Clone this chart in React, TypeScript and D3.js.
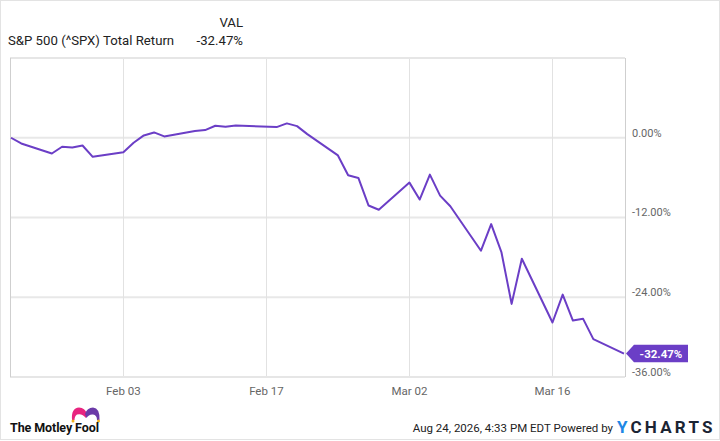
import React from 'react';
import * as d3 from 'd3';

const dates: string[] = [
    '2020-01-23', '2020-01-24', '2020-01-27', '2020-01-28', '2020-01-29', '2020-01-30', '2020-01-31',
    '2020-02-03', '2020-02-04', '2020-02-05', '2020-02-06', '2020-02-07',
    '2020-02-10', '2020-02-11', '2020-02-12', '2020-02-13', '2020-02-14',
    '2020-02-18', '2020-02-19', '2020-02-20', '2020-02-21',
    '2020-02-24', '2020-02-25', '2020-02-26', '2020-02-27', '2020-02-28',
    '2020-03-02', '2020-03-03', '2020-03-04', '2020-03-05', '2020-03-06',
    '2020-03-09', '2020-03-10', '2020-03-11', '2020-03-12', '2020-03-13',
    '2020-03-16', '2020-03-17', '2020-03-18', '2020-03-19', '2020-03-20',
    '2020-03-23',
];

const totalReturn: number[] = [
    0, -0.86, -2.37, -1.36, -1.47, -1.16, -2.87,
    -2.17, -0.76, 0.35, 0.8, 0.2,
    1.0, 1.15, 1.81, 1.66, 1.86,
    1.6, 2.16, 1.75, 0.55,
    -2.66, -5.65, -6.05, -10.2, -10.83,
    -6.75, -9.3, -5.55, -8.7, -10.3,
    -17.0, -13.0, -17.2, -25.0, -18.2,
    -27.8, -23.6, -27.5, -27.25, -30.3,
    -32.47,
];

const yTicks: number[] = [0, -12, -24, -36];
const xTicks: string[] = ['2020-02-03', '2020-02-17', '2020-03-02', '2020-03-16'];

const seriesName = 'S&P 500 (^SPX) Total Return';
const stamp = 'Aug 24, 2026, 4:33 PM EDT Powered by';

const W = 720;
const H = 441;
const plot = { left: 10, right: 625, top: 58, bottom: 377 };
const purple = '#6b3ec6';
const font = 'Roboto, sans-serif';

export default function App() {
    const parse = d3.timeParse('%Y-%m-%d');
    const data = dates.map((d, i) => ({ date: parse(d) as Date, value: totalReturn[i] }));

    const x = d3.scaleTime()
        .domain(d3.extent(data, d => d.date) as [Date, Date])
        .range([plot.left + 1, plot.right - 1]);

    const y = d3.scaleLinear()
        .domain([-36, 12])
        .range([plot.bottom, plot.top]);

    const line = d3.line<{ date: Date; value: number }>()
        .x(d => x(d.date))
        .y(d => y(d.value));

    const fmtPct = (v: number) => `${v.toFixed(2)}%`;
    const fmtDay = d3.timeFormat('%b %d');
    const last = data[data.length - 1];
    const ly = y(last.value);
    const lx = plot.right + 1;

    return (
        <svg width={W} height={H} style={{ position: 'absolute', left: 0, top: 0 }} fontFamily={font}>
            <rect x={0.5} y={0.5} width={W - 1} height={H - 2} fill="#fff" stroke="#e3e3e3" />

            {/* header */}
            <text x={243} y={27} textAnchor="end" fontSize={13.2} fill="#222">VAL</text>
            <text x={8} y={45} fontSize={13.2} fill="#222">{seriesName}</text>
            <text x={243} y={45} textAnchor="end" fontSize={13.2} fill="#222">{fmtPct(last.value)}</text>

            {/* grid */}
            {yTicks.map(t => (
                <line key={t} x1={plot.left} x2={plot.right} y1={y(t)} y2={y(t)} stroke="#e8e8e8" strokeWidth={2} />
            ))}
            {xTicks.map(t => {
                const xx = Math.round(x(parse(t) as Date)) + 0.5;
                return <line key={t} x1={xx} x2={xx} y1={plot.top} y2={plot.bottom} stroke="#e2e2e2" />;
            })}
            <line x1={plot.left} x2={plot.right} y1={plot.top} y2={plot.top} stroke="#e6e6e6" strokeWidth={2} />
            <line x1={plot.left} x2={plot.right} y1={plot.bottom} y2={plot.bottom} stroke="#e6e6e6" strokeWidth={2} />
            <line x1={plot.left + 0.5} x2={plot.left + 0.5} y1={plot.top} y2={plot.bottom} stroke="#cfcfcf" />
            <line x1={plot.right + 0.5} x2={plot.right + 0.5} y1={plot.top} y2={plot.bottom} stroke="#cfcfcf" />

            {/* axis labels */}
            {yTicks.map(t => (
                <text key={t} x={632} y={y(t) - 1.2} fontSize={11} fill="#666">{fmtPct(t)}</text>
            ))}
            {xTicks.map(t => (
                <text key={t} x={x(parse(t) as Date)} y={395} textAnchor="middle" fontSize={11.5} fill="#666">
                    {fmtDay(parse(t) as Date)}
                </text>
            ))}

            {/* series */}
            <path d={line(data) as string} fill="none" stroke={purple} strokeWidth={2} strokeLinejoin="round" />

            {/* last value flag */}
            <path
                d={`M${lx},${ly} L${lx + 8},${ly - 8.7} L${lx + 62},${ly - 8.7} L${lx + 62},${ly + 8.7} L${lx + 8},${ly + 8.7} Z`}
                fill={purple}
            />
            <text x={lx + 35} y={ly + 4} textAnchor="middle" fontSize={11.5} fontWeight="bold" fill="#fff">
                {fmtPct(last.value)}
            </text>

            {/* footer: Motley Fool */}
            <path d="M72,420 Q71,408 79,407.5 Q85,407.5 87,414 L86,418 Q82,413 77,414.5 Q74.5,416 74.5,420 Z" fill="#e8247f" />
            <path d="M85,414 Q87,407.5 93,407.5 Q100,408 99.5,420 L97,420 Q97,415 93,414.5 Q89,414 86.5,418 Z" fill="#6b3aa8" />
            <circle cx={73} cy={421} r={1.5} fill="#f2b01e" />
            <circle cx={98.5} cy={421} r={1.5} fill="#f2b01e" />
            <text x={10} y={432} fontSize={12.5} fontWeight="bold" fill="#111" letterSpacing={-0.1}>The Motley Fool</text>

            {/* footer: stamp + YCharts */}
            <text x={613} y={432} textAnchor="end" fontSize={11.5} fill="#222">{stamp}</text>
            <text x={617} y={433} fontSize={17} fontWeight="bold" letterSpacing={3.2} fill="#1b2433">
                <tspan fill="#1e88e5">Y</tspan>CHARTS
            </text>
        </svg>
    );
}
